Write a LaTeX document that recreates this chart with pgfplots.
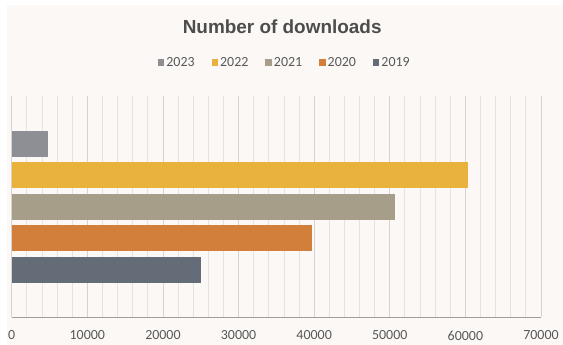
\documentclass[border=0pt]{standalone}
\usepackage{pgfplots}
\pgfplotsset{compat=1.18}
\usepackage{fontspec}
\setmainfont{Carlito}
\newfontfamily\titlefont{Liberation Sans}
\definecolor{bg}{HTML}{FBF8F5}
\definecolor{cA}{HTML}{8E8F95}
\definecolor{cB}{HTML}{E9B23C}
\definecolor{cC}{HTML}{A69E88}
\definecolor{cD}{HTML}{D27F3C}
\definecolor{cE}{HTML}{646C78}
\definecolor{gridmaj}{HTML}{D6D3CF}
\definecolor{gridmin}{HTML}{E6E3DF}
\definecolor{txt}{HTML}{595959}
\definecolor{ttl}{HTML}{4D4D4D}
\pgfplotsset{sqleg/.style={legend image code/.code={\fill[##1] (0bp,-3bp) rectangle (6.5bp,3.5bp);}}}
\begin{document}
\begin{tikzpicture}
\useasboundingbox (0,0) rectangle (563bp,-345bp);
\fill[white] (0,0) rectangle (563bp,-345bp);
\fill[bg] (7bp,-5bp) rectangle (563bp,-345bp);
\begin{axis}[
  at={(11.7bp,-317.3bp)}, anchor=south west,
  scale only axis, width=529.3bp, height=221bp,
  xmin=0, xmax=70000, ymin=-0.5, ymax=6.5,
  clip=false,
  axis x line*=bottom, axis y line=none,
  x axis line style={draw=black!38, line width=1.4bp},
  xtick={0,10000,...,70000}, minor x tick num=4,
  ytick=\empty,
  major tick length=0pt, minor tick length=0pt,
  grid=both,
  major grid style={draw=gridmaj, line width=0.8bp},
  minor grid style={draw=gridmin, line width=0.8bp},
  scaled x ticks=false,
  /pgf/number format/.cd, 1000 sep={}, assume math mode=true, /pgfplots/.cd,
  xticklabel style={font=\fontsize{14}{16}\selectfont, text=txt, yshift=-10bp},
  legend columns=5,
  legend style={at={(0.516,1.151)}, anchor=center, draw=none, fill=none,
    font=\fontsize{14}{16}\selectfont, text=txt,
    /tikz/every even column/.append style={column sep=15bp}},
  xbar, bar shift=0pt, bar width=26bp,
]
\addplot[fill=cA, draw=none, sqleg] coordinates {(4800,5)};
\addplot[fill=cB, draw=none, sqleg] coordinates {(60300,4)};
\addplot[fill=cC, draw=none, sqleg] coordinates {(50700,3)};
\addplot[fill=cD, draw=none, sqleg] coordinates {(39700,2)};
\addplot[fill=cE, draw=none, sqleg] coordinates {(25000,1)};
\legend{2023,2022,2021,2020,2019}
\node[text=ttl, font=\titlefont\bfseries\fontsize{19}{22}\selectfont] at (axis description cs:0.511,1.3136) {Number of downloads};
\end{axis}
\end{tikzpicture}
\end{document}
